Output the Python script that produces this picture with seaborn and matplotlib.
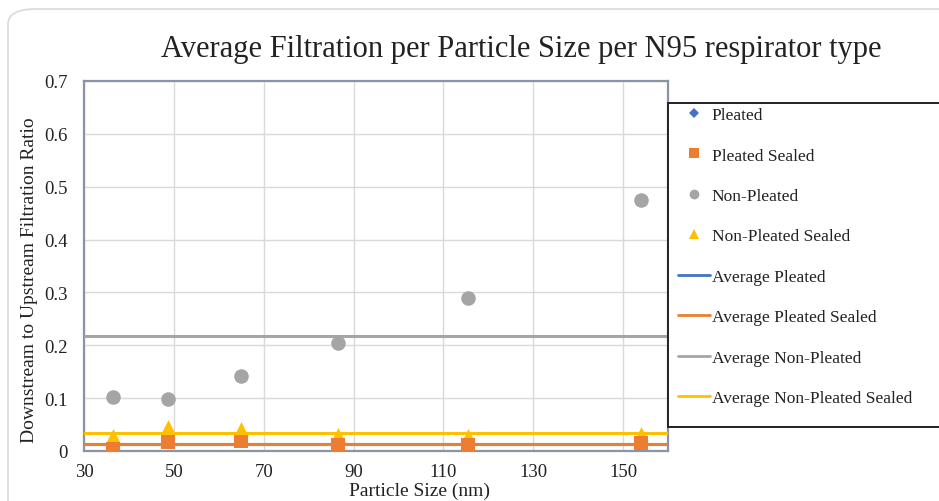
import matplotlib
matplotlib.use("Agg")
import matplotlib.pyplot as plt
from matplotlib.patches import FancyBboxPatch, Rectangle
from matplotlib.lines import Line2D
import numpy as np
import pandas as pd
import seaborn as sns

# Particle sizes (nm) and downstream/upstream ratios per respirator type
particle_size = [36.5, 48.7, 64.9, 86.6, 115.5, 154.0]
pleated = [0.003, 0.019, 0.019, 0.013, 0.013, 0.017]
pleated_sealed = [0.004, 0.017, 0.018, 0.012, 0.012, 0.015]
non_pleated = [0.102, 0.099, 0.142, 0.204, 0.290, 0.474]
non_pleated_sealed = [0.028, 0.045, 0.042, 0.030, 0.028, 0.032]

x_ticks = [30, 50, 70, 90, 110, 130, 150]
y_ticks = [0, 0.1, 0.2, 0.3, 0.4, 0.5, 0.6, 0.7]
y_tick_labels = ["0", "0.1", "0.2", "0.3", "0.4", "0.5", "0.6", "0.7"]

series = {
    "Pleated": pleated,
    "Pleated Sealed": pleated_sealed,
    "Non-Pleated": non_pleated,
    "Non-Pleated Sealed": non_pleated_sealed,
}
colors = {
    "Pleated": "#4472C4",
    "Pleated Sealed": "#ED7D31",
    "Non-Pleated": "#A5A5A5",
    "Non-Pleated Sealed": "#FFC000",
}
markers = {
    "Pleated": "D",
    "Pleated Sealed": "s",
    "Non-Pleated": "o",
    "Non-Pleated Sealed": "^",
}
sizes = {"Pleated": 40, "Pleated Sealed": 90, "Non-Pleated": 110, "Non-Pleated Sealed": 115}
zorders = {"Pleated": 3, "Pleated Sealed": 5, "Non-Pleated": 3, "Non-Pleated Sealed": 4}

df = pd.DataFrame({"size": particle_size, **series})

sns.set_theme(style="white")
serif = ["Liberation Serif", "DejaVu Serif"]
plt.rcParams["font.family"] = serif

W, H = 939, 502
fig = plt.figure(figsize=(W / 100, H / 100), dpi=100)
fig.patch.set_facecolor("white")

# rounded card outline behind the chart
card = FancyBboxPatch((8 / W, -0.1), 1.2, (H - 10) / H + 0.1,
                      boxstyle="round,pad=0,rounding_size=0.03",
                      transform=fig.transFigure, facecolor="white",
                      edgecolor="#d9d9d9", linewidth=1.2, zorder=-5)
fig.patches.append(card)

ax = fig.add_axes([84 / W, 1 - 452 / H, (668 - 84) / W, (452 - 82) / H])
ax.set_facecolor("none")

for name, vals in series.items():
    sns.scatterplot(data=df, x="size", y=name, ax=ax, color=colors[name],
                    marker=markers[name], s=sizes[name], linewidth=0,
                    zorder=zorders[name], legend=False)

# horizontal lines at each series mean
for name, vals in series.items():
    ax.axhline(np.mean(vals), color=colors[name], linewidth=2.2, zorder=6)

ax.set_xlim(30, 160)
ax.set_ylim(0, 0.7)
ax.set_xticks(x_ticks)
ax.set_yticks(y_ticks)
ax.set_yticklabels(y_tick_labels)
ax.grid(True, color="#d9d9d9", linewidth=1.0, zorder=0)
ax.set_axisbelow(True)
ax.tick_params(axis="both", length=0, labelsize=13.5, colors="#222222")
ax.tick_params(axis="y", pad=12)
ax.tick_params(axis="x", pad=9)
for side, sp in ax.spines.items():
    sp.set_color("#8a94a6")
    sp.set_linewidth(1.6)

ax.set_xlabel("Particle Size (nm)", fontsize=14, color="#222222")
ax.xaxis.set_label_coords(0.575, -0.083)
ax.set_ylabel("Downstream to Upstream Filtration Ratio", fontsize=14,
              color="#222222")
ax.yaxis.set_label_coords(-0.079, 0.465)

fig.text(521 / W, 1 - 50 / H,
         "Average Filtration per Particle Size per N95 respirator type",
         ha="center", va="center", fontsize=22, color="#222222")

# legend box on the right, running past the figure edge
box = Rectangle((668 / W, 1 - 428 / H), 300 / W, (428 - 104) / H,
                transform=fig.transFigure, facecolor="white",
                edgecolor="#222222", linewidth=1.4, zorder=10)
fig.patches.append(box)

handles = []
for name in series:
    handles.append(Line2D([], [], linestyle="none", marker=markers[name],
                          color=colors[name], markersize=7 if name != "Pleated" else 5.5,
                          markeredgewidth=0, label=name))
for name in series:
    handles.append(Line2D([], [], color=colors[name], linewidth=2,
                          label="Average " + name))
leg = fig.legend(handles=handles, loc="upper left",
                 bbox_to_anchor=(671 / W, 1 - 101 / H), frameon=False,
                 fontsize=12.5, labelspacing=1.40, handlelength=1.85,
                 handletextpad=0.1, borderaxespad=0)
leg.set_zorder(11)
for t in leg.get_texts():
    t.set_color("#222222")

fig.savefig("out.png", dpi=100)
